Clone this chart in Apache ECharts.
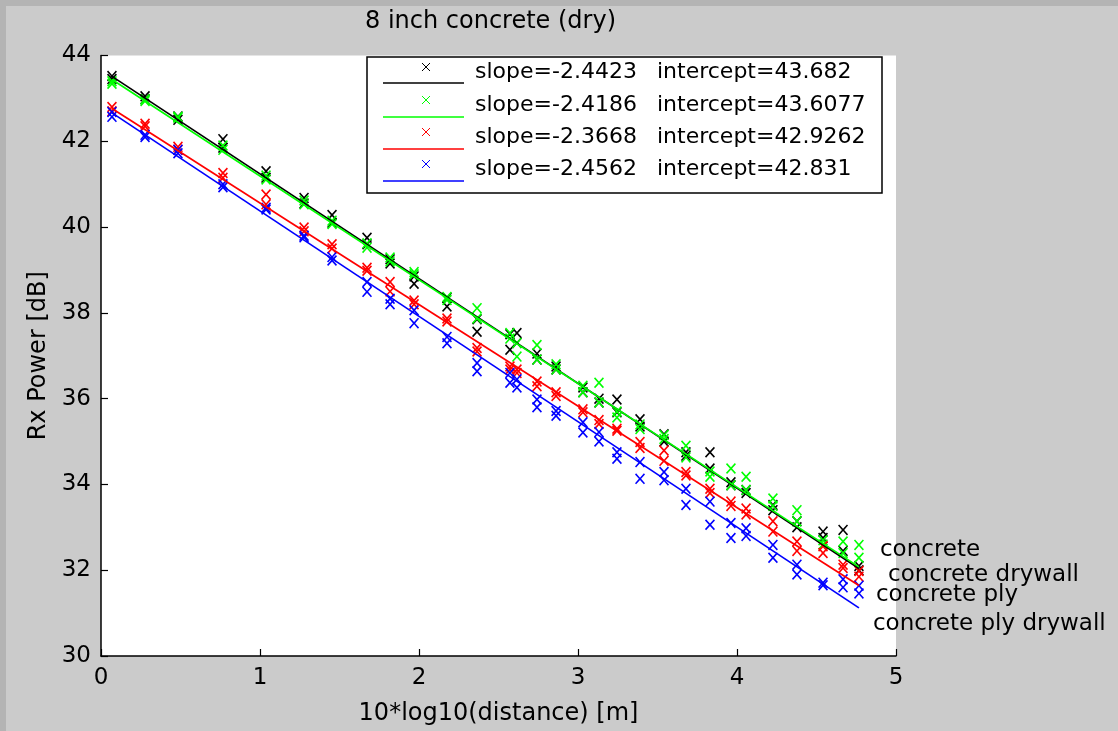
<!DOCTYPE html>
<html>
<head>
<meta charset="utf-8">
<script src="https://cdn.jsdelivr.net/npm/echarts@6/dist/echarts.min.js"></script>
<style>
html,body{margin:0;padding:0;background:#cbcbcb;}
#chart{width:1118px;height:731px;}
</style>
</head>
<body>
<div id="chart"></div>
<script>
// ---- data ----
const titleText = '8 inch concrete (dry)';
const xName = '10*log10(distance) [m]';
const yName = 'Rx Power [dB]';
const seriesNames = ['concrete', 'concrete drywall', 'concrete ply', 'concrete ply drywall'];
const seriesColors = ['#000000', '#00ff00', '#ff0000', '#0000ff'];
const slopes = ['-2.4423', '-2.4186', '-2.3668', '-2.4562'];
const intercepts = ['43.682', '43.6077', '42.9262', '42.831'];

const xVals = [0.069,0.277,0.484,0.767,1.038,1.277,1.453,1.673,1.818,1.969,2.176,2.365,2.572,2.616,2.742,2.862,3.031,3.132,3.245,3.390,3.541,3.679,3.830,3.962,4.057,4.226,4.377,4.541,4.667,4.767];

const blackA = [43.52,43.05,42.58,42.05,41.30,40.68,40.28,39.75,39.15,38.68,38.35,37.56,37.50,37.53,36.91,36.68,36.26,35.91,35.98,35.52,35.17,34.67,34.75,33.98,33.87,33.52,33.14,32.90,32.94,32.10];
const blackB = [43.45,42.98,42.50,41.85,41.15,40.55,40.10,39.60,39.25,38.85,38.15,37.85,37.14,37.30,37.05,36.75,36.15,36.00,35.68,35.35,35.00,34.75,34.37,34.05,33.80,33.40,33.00,32.75,32.45,32.00];
const greenA = [43.34,42.94,42.57,41.80,41.11,40.53,40.07,39.52,39.29,38.95,38.37,38.11,37.53,36.98,37.25,36.68,36.15,36.37,35.56,35.29,35.06,34.90,34.18,34.37,34.18,33.67,33.40,32.70,32.67,32.59];
const greenB = [43.40,42.98,42.55,41.90,41.20,40.62,40.15,39.62,39.20,38.90,38.30,37.87,37.40,37.30,36.91,36.80,36.30,35.91,35.70,35.40,35.15,34.63,34.30,33.98,33.87,33.50,33.14,32.60,32.40,32.29];
const redA = [42.80,42.41,41.87,41.26,40.76,39.99,39.60,38.98,38.72,38.29,37.87,37.18,36.68,36.68,36.29,36.06,35.68,35.41,35.25,34.99,34.79,34.29,33.90,33.60,33.44,33.14,32.67,32.56,32.13,31.98];
const redB = [42.70,42.35,41.80,41.15,40.53,39.90,39.50,39.05,38.50,38.20,37.80,37.10,36.75,36.60,36.40,36.15,35.75,35.50,35.30,34.85,34.55,34.21,33.80,33.50,33.30,32.90,32.45,32.40,32.05,31.85];
const blueA = [42.68,42.10,41.72,41.00,40.41,39.76,39.22,38.72,38.33,38.06,37.44,36.83,36.60,36.26,35.98,35.71,35.45,35.22,34.75,34.52,34.29,33.90,33.60,33.10,32.98,32.59,32.13,31.71,31.79,31.64];
const blueB = [42.57,42.15,41.80,40.93,40.45,39.80,39.30,38.49,38.20,37.76,37.29,36.64,36.37,36.45,35.80,35.60,35.21,35.00,34.60,34.13,34.10,33.52,33.06,32.75,32.80,32.29,31.90,31.65,31.60,31.46];

// fitted line end points (x at first and last column)
const fitX = [0.069, 4.767];
const blackFit = [43.513, 32.040];
const greenFit = [43.441, 32.078];
const redFit = [42.763, 31.644];
const blueFit = [42.662, 31.122];

// right-side text annotations (data coordinates)
const annoX = [4.899, 4.950, 4.874, 4.855];
const annoY = [32.465, 31.884, 31.419, 30.744];

// ---- build ----
const FONT = 'DejaVu Sans';
const XPATH = 'path://M0,1.1L1.1,0L5,3.9L8.9,0L10,1.1L6.1,5L10,8.9L8.9,10L5,6.1L1.1,10L0,8.9L3.9,5Z';

const pointSets = [[blackA, blackB],[greenA, greenB],[redA, redB],[blueA, blueB]];
const fits = [blackFit, greenFit, redFit, blueFit];

const series = [];
pointSets.forEach((sets, i) => {
  const data = [];
  sets.forEach(arr => arr.forEach((v, k) => data.push([xVals[k], v])));
  series.push({
    type: 'scatter', name: seriesNames[i], data: data,
    symbol: XPATH, symbolSize: [10, 11],
    itemStyle: {color: seriesColors[i], opacity: 1},
    z: 2 + i, silent: true
  });
});
fits.forEach((f, i) => {
  series.push({
    type: 'line', name: seriesNames[i] + ' fit',
    data: [[fitX[0], f[0]], [fitX[1], f[1]]],
    showSymbol: false, symbol: 'none',
    lineStyle: {color: seriesColors[i], width: 1.7},
    z: 10 + i, silent: true
  });
});

// legend drawn as graphics
const legendBox = {x: 367, y: 57, w: 515, h: 136};
const rowMarkY = [67, 100, 132, 164];
const rowTextY = [72, 105, 137, 169];
const rowLineY = [83, 117, 149, 181];
const graphics = [
  {type: 'rect', left: 0, top: 0, shape: {width: 6, height: 731}, style: {fill: '#b4b4b4'}, z: 100},
  {type: 'rect', left: 0, top: 0, shape: {width: 1118, height: 6}, style: {fill: '#b4b4b4'}, z: 100},
  {type: 'rect', shape: {x: legendBox.x, y: legendBox.y, width: legendBox.w, height: legendBox.h},
   style: {fill: '#ffffff', stroke: '#000', lineWidth: 1.5}, z: 50}
];
for (let i = 0; i < 4; i++) {
  const c = seriesColors[i], mx = 426, my = rowMarkY[i], s = 4;
  graphics.push({type: 'line', shape: {x1: mx - s, y1: my - s, x2: mx + s, y2: my + s}, style: {stroke: c, lineWidth: 1}, z: 51});
  graphics.push({type: 'line', shape: {x1: mx - s, y1: my + s, x2: mx + s, y2: my - s}, style: {stroke: c, lineWidth: 1}, z: 51});
  graphics.push({type: 'line', shape: {x1: 383, y1: rowLineY[i], x2: 464, y2: rowLineY[i]}, style: {stroke: c, lineWidth: 1.5}, z: 51});
  graphics.push({type: 'text', x: 475, y: rowTextY[i], style: {text: 'slope=' + slopes[i], fill: '#000', font: '22px "' + FONT + '"', textVerticalAlign: 'middle', verticalAlign: 'middle'}, z: 51});
  graphics.push({type: 'text', x: 657, y: rowTextY[i], style: {text: 'intercept=' + intercepts[i], fill: '#000', font: '22px "' + FONT + '"', textVerticalAlign: 'middle', verticalAlign: 'middle'}, z: 51});
}

const axisCommon = {
  axisLine: {show: true, lineStyle: {color: '#000', width: 1.5}},
  axisTick: {show: true, inside: true, length: 7, lineStyle: {color: '#000', width: 1.2}},
  splitLine: {show: false},
  axisLabel: {color: '#000', fontFamily: FONT, fontSize: 23},
  nameTextStyle: {color: '#000', fontFamily: FONT, fontSize: 24},
  nameLocation: 'middle'
};

const option = {
  backgroundColor: '#cbcbcb',
  animation: false,
  title: {text: titleText, left: 365, top: 10, padding: 0,
    textStyle: {fontFamily: FONT, fontSize: 24, fontWeight: 'normal', color: '#000'}},
  grid: {left: 101, right: 222, top: 55.5, bottom: 73, show: true, backgroundColor: '#ffffff', borderWidth: 0},
  xAxis: Object.assign({}, axisCommon, {
    type: 'value', min: 0, max: 5, interval: 1, name: xName, nameGap: 46,
    axisLabel: Object.assign({}, axisCommon.axisLabel, {margin: 11})
  }),
  yAxis: Object.assign({}, axisCommon, {
    type: 'value', min: 30, max: 44, interval: 2, name: yName, nameGap: 42,
    axisLabel: Object.assign({}, axisCommon.axisLabel, {margin: 10})
  }),
  series: series,
  graphic: graphics
};

const chart = echarts.init(document.getElementById('chart'), null, {renderer: 'canvas'});
chart.setOption(option);

// annotation texts placed through the axes' scales
const annoGraphics = seriesNames.map((n, i) => {
  const p = chart.convertToPixel({gridIndex: 0}, [annoX[i], annoY[i]]);
  return {type: 'text', x: p[0], y: p[1], z: 60,
    style: {text: n, fill: '#000', font: '23px "' + FONT + '"', textVerticalAlign: 'middle', verticalAlign: 'middle'}};
});
chart.setOption({graphic: graphics.concat(annoGraphics)});
</script>
</body>
</html>
